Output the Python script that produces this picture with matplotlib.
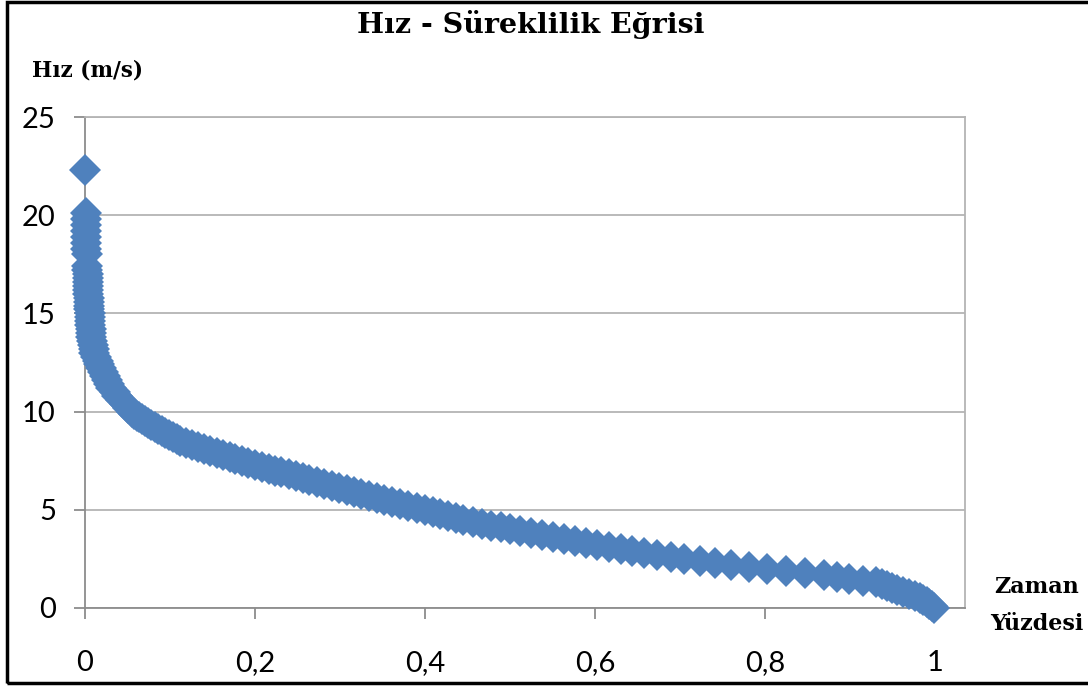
import matplotlib
matplotlib.use("Agg")
import matplotlib.pyplot as plt
from matplotlib.patches import Rectangle
from matplotlib.ticker import FuncFormatter

# duration curve: share of time (x) vs. wind speed (y), sorted high to low
zaman = [0.0005, 0.001, 0.0012, 0.0013, 0.0014, 0.0015, 0.0016, 0.0017, 0.0019,
         0.0026, 0.0028, 0.003, 0.0032, 0.0034, 0.0036, 0.0038, 0.004, 0.0043,
         0.0045, 0.0048, 0.005, 0.0053, 0.0055, 0.0058, 0.006, 0.0065, 0.007,
         0.0075, 0.008, 0.009, 0.010, 0.011, 0.013, 0.015, 0.017, 0.019, 0.021,
         0.023, 0.026, 0.028, 0.031, 0.035, 0.038, 0.042, 0.047, 0.051,
         0.055, 0.058, 0.061, 0.064, 0.067, 0.070, 0.074, 0.078, 0.082, 0.086,
         0.090, 0.094, 0.099, 0.103, 0.108, 0.112, 0.119, 0.126, 0.133, 0.140,
         0.147, 0.155, 0.162, 0.170, 0.177, 0.185, 0.192, 0.200, 0.208, 0.216,
         0.224, 0.231, 0.240, 0.248, 0.256, 0.264, 0.273, 0.281, 0.290, 0.299,
         0.308, 0.316, 0.325, 0.334, 0.343, 0.352, 0.361, 0.371, 0.380, 0.390,
         0.400, 0.409, 0.418, 0.427, 0.436, 0.445, 0.456, 0.467, 0.478, 0.489,
         0.500, 0.512, 0.525, 0.537, 0.550, 0.563, 0.576, 0.589, 0.602, 0.616,
         0.630, 0.643, 0.658, 0.673, 0.689, 0.705, 0.723, 0.741, 0.760, 0.781,
         0.802, 0.825, 0.847, 0.869, 0.884, 0.899, 0.915, 0.930, 0.937, 0.943,
         0.949, 0.955, 0.962, 0.969, 0.976, 0.982, 0.986, 0.990, 0.993, 0.996,
         0.998]

hiz = [22.3, 20.1, 19.8, 19.5, 19.2, 18.9, 18.6, 18.3, 18.0,
       17.4, 17.2, 17.0, 16.8, 16.6, 16.4, 16.2, 16.0, 15.8,
       15.6, 15.4, 15.2, 15.0, 14.8, 14.6, 14.4, 14.2, 14.0,
       13.8, 13.6, 13.4, 13.2, 13.0, 12.8, 12.6, 12.4, 12.2, 12.0,
       11.8, 11.6, 11.4, 11.2, 11.0, 10.8, 10.6, 10.4, 10.2,
       10.0, 9.9, 9.8, 9.7, 9.6, 9.5, 9.4, 9.3, 9.2, 9.1,
       9.0, 8.9, 8.8, 8.7, 8.6, 8.5, 8.4, 8.3, 8.2, 8.1,
       8.0, 7.9, 7.8, 7.7, 7.6, 7.5, 7.4, 7.3, 7.2, 7.1,
       7.0, 6.9, 6.8, 6.7, 6.6, 6.5, 6.4, 6.3, 6.2, 6.1,
       6.0, 5.9, 5.8, 5.7, 5.6, 5.5, 5.4, 5.3, 5.2, 5.1,
       5.0, 4.9, 4.8, 4.7, 4.6, 4.5, 4.4, 4.3, 4.2, 4.1,
       4.0, 3.9, 3.8, 3.7, 3.6, 3.5, 3.4, 3.3, 3.2, 3.1,
       3.0, 2.9, 2.8, 2.7, 2.6, 2.5, 2.4, 2.3, 2.2, 2.1,
       2.0, 1.9, 1.8, 1.7, 1.6, 1.5, 1.4, 1.3, 1.2, 1.1,
       1.0, 0.9, 0.8, 0.7, 0.6, 0.5, 0.4, 0.3, 0.2, 0.1,
       0.0]

x_ticks = [0, 0.2, 0.4, 0.6, 0.8, 1]
y_ticks = [0, 5, 10, 15, 20, 25]

title = "Hız - Süreklilik Eğrisi"
y_label = "Hız (m/s)"
x_label_lines = ["Zaman", "Yüzdesi"]

blue = "#4F81BD"
axis_grey = "#8C8C8C"
grid_grey = "#B4B4B4"

W, H = 1088, 688
fig = plt.figure(figsize=(W / 100, H / 100), dpi=100)
fig.patch.set_facecolor("white")

# plot area in pixels: left 85, right 965, top 117, bottom 608
ax = fig.add_axes([85 / W, (H - 608) / H, 880 / W, 491 / H])

ax.plot(zaman, hiz, linestyle="none", marker="D", markersize=16,
        color=blue, markeredgewidth=0, clip_on=False, zorder=3)

ax.set_xlim(0, 1.035)
ax.set_ylim(0, 25)
ax.set_xticks(x_ticks)
ax.set_yticks(y_ticks)
ax.xaxis.set_major_formatter(FuncFormatter(lambda v, p: ("%g" % v).replace(".", ",")))

ax.yaxis.grid(True, color=grid_grey, linewidth=1.3)
ax.set_axisbelow(True)

for side in ["left", "bottom"]:
    ax.spines[side].set_color(axis_grey)
    ax.spines[side].set_linewidth(1.3)
for side in ["top", "right"]:
    ax.spines[side].set_color(grid_grey)
    ax.spines[side].set_linewidth(1.3)

ax.tick_params(axis="both", direction="out", length=8, width=1.3,
               color=axis_grey, labelcolor="black")
ax.tick_params(axis="y", pad=13)
ax.tick_params(axis="x", pad=22)
for lbl in ax.get_xticklabels() + ax.get_yticklabels():
    lbl.set_fontfamily("Lato")
    lbl.set_fontsize(21)

serif = ["DejaVu Serif"]
fig.text(531 / W, 1 - 33 / H, title, ha="center", va="baseline",
         family=serif, weight="bold", fontsize=20.5)
fig.text(32 / W, 1 - 77 / H, y_label, ha="left", va="baseline",
         family=serif, weight="bold", fontsize=15.5)
for line, base in zip(x_label_lines, [593, 630]):
    fig.text(1037 / W, 1 - base / H, line, ha="center", va="baseline",
             family=serif, weight="bold", fontsize=16)

# black frame around the whole chart
fig.patches.append(Rectangle((6.5 / W, 5 / H), 1.2, 1 - 6.5 / H,
                             transform=fig.transFigure, fill=False,
                             edgecolor="black", linewidth=2.5))

fig.savefig("out.png", dpi=100)
